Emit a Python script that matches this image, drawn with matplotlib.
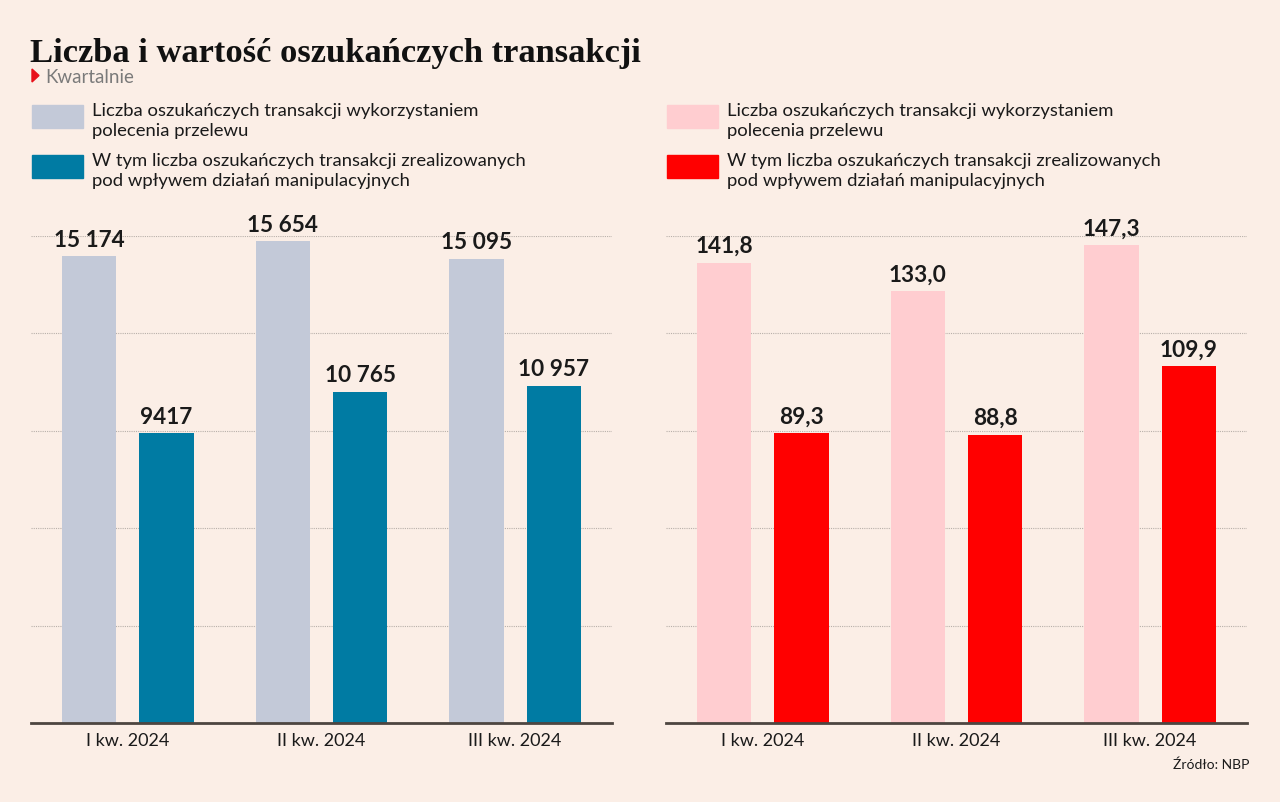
import matplotlib.pyplot as plt
from matplotlib.patches import Rectangle, Polygon
import numpy as np

QUARTERS = ["I kw. 2024", "II kw. 2024", "III kw. 2024"]
COUNT_ALL = [15174, 15654, 15095]
COUNT_MANIP = [9417, 10765, 10957]
VALUE_ALL = [141.8, 133.0, 147.3]
VALUE_MANIP = [89.3, 88.8, 109.9]

LEGEND_ALL = "Liczba oszukańczych transakcji wykorzystaniem\npolecenia przelewu"
LEGEND_MANIP = "W tym liczba oszukańczych transakcji zrealizowanych\npod wpływem działań manipulacyjnych"

BG = "#fbeee6"
GREY_BAR = "#c3c9d8"
TEAL = "#007ba3"
PINK = "#ffcdd0"
RED = "#ff0000"
TXT = "#1a1a1a"

W, H = 1280, 802


def fmt_count(v):
    if v >= 10000:
        return "{:,}".format(v).replace(",", " ")
    return str(v)


def fmt_value(v):
    return "{:.1f}".format(v).replace(".", ",")


def px(x, y):
    return x / W, 1 - y / H


def draw_panel(ax, light, dark, c_light, c_dark, ymax, ticks, fmt):
    x = np.arange(len(QUARTERS))
    bw = 0.28
    b1 = ax.bar(x - 0.2, light, bw, color=c_light, zorder=3)
    b2 = ax.bar(x + 0.2, dark, bw, color=c_dark, zorder=3)
    for bars, vals in ((b1, light), (b2, dark)):
        for b, v in zip(bars, vals):
            ax.annotate(fmt(v), (b.get_x() + b.get_width() / 2, v),
                        xytext=(0, 4), textcoords="offset points",
                        ha="center", va="bottom", fontsize=16.3,
                        fontweight="bold", family="Lato", color=TXT)
    ax.set_xlim(-0.5, len(QUARTERS) - 0.5)
    ax.set_ylim(0, ymax)
    ax.set_yticks(ticks)
    ax.set_yticklabels([])
    ax.tick_params(axis="y", length=0)
    ax.grid(axis="y", color="#b8b0aa", linestyle=(0, (1, 1)), linewidth=0.8, zorder=0)
    ax.set_xticks(x)
    ax.set_xticklabels(QUARTERS, fontsize=13, family="Lato", color=TXT)
    ax.tick_params(axis="x", length=0, pad=7)
    for s in ("top", "right", "left"):
        ax.spines[s].set_visible(False)
    ax.spines["bottom"].set_color("#4d4540")
    ax.spines["bottom"].set_linewidth(2)
    ax.spines["bottom"].set_zorder(4)
    ax.set_facecolor(BG)


fig = plt.figure(figsize=(W / 100, H / 100), dpi=100, facecolor=BG)

bottom = (H - 723) / H
height = (723 - 236) / H
ax1 = fig.add_axes([31 / W, bottom, 581 / W, height])
ax2 = fig.add_axes([666 / W, bottom, 581 / W, height])

top_left = 15830
draw_panel(ax1, COUNT_ALL, COUNT_MANIP, GREY_BAR, TEAL,
           top_left, np.linspace(0, top_left, 6), fmt_count)
draw_panel(ax2, VALUE_ALL, VALUE_MANIP, PINK, RED,
           150, np.arange(0, 151, 30), fmt_value)

# title and subtitle
fig.text(*px(30, 62), "Liczba i wartość oszukańczych transakcji", fontsize=24.8,
         fontweight="bold", family="Liberation Serif", color="#111111", va="baseline")
tri = Polygon([px(32, 69), px(32, 82), px(39, 75.5)], closed=True,
              transform=fig.transFigure, color="#e8101a")
fig.add_artist(tri)
fig.text(*px(45, 83), "Kwartalnie", fontsize=13.5, family="Lato", color="#7a7a7a",
         va="baseline")

# legends
for x0, col_l, col_d in ((32, GREY_BAR, TEAL), (667, PINK, RED)):
    for y0, col, label in ((105, col_l, LEGEND_ALL), (155, col_d, LEGEND_MANIP)):
        fig.add_artist(Rectangle(px(x0, y0 + 23), 51 / W, 23 / H,
                                 transform=fig.transFigure, color=col))
        fig.text(*px(x0 + 60, y0 - 2), label, fontsize=13.3, family="Lato", color=TXT,
                 va="top", linespacing=1.28)

fig.text(*px(1249, 769), "Źródło: NBP", fontsize=10, family="Lato", color=TXT,
         ha="right", va="baseline")

fig.savefig("out.png", dpi=100, facecolor=BG)
